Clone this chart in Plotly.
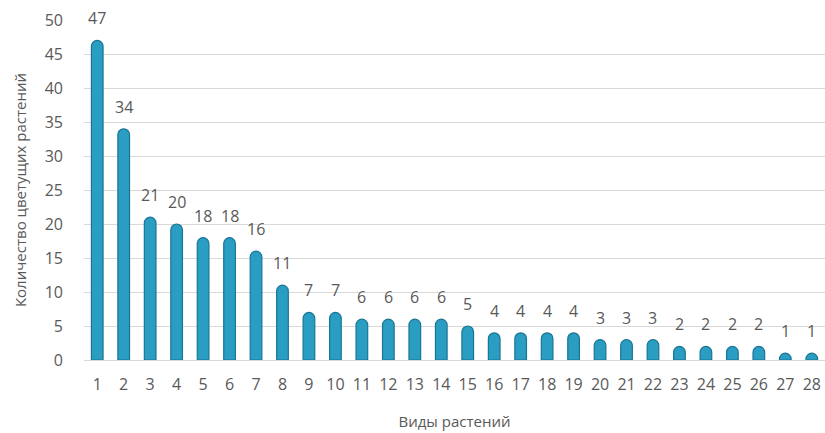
import plotly.graph_objects as go

categories = [str(i) for i in range(1, 29)]
values = [47, 34, 21, 20, 18, 18, 16, 11, 7, 7, 6, 6, 6, 6, 5, 4, 4, 4, 4, 3, 3, 3, 2, 2, 2, 2, 1, 1]
y_ticks = [0, 5, 10, 15, 20, 25, 30, 35, 40, 45, 50]

font_fam = "Open Sans, Noto Sans, sans-serif"
txt_color = "#595959"

fig = go.Figure(go.Bar(
    x=categories, y=values,
    cliponaxis=False,
    marker=dict(color="#2a9dc2", line=dict(color="#1a7594", width=1.2), cornerradius=6),
))

# category axis: annotation x given as category index
for idx, v in enumerate(values):
    fig.add_annotation(x=idx, y=v, text=str(v), showarrow=False, yanchor="bottom",
                       yshift=9, font=dict(size=16, color=txt_color, family=font_fam))

fig.update_layout(
    width=825, height=433,
    margin=dict(l=84, r=0, t=20, b=73),
    paper_bgcolor="white", plot_bgcolor="white",
    bargap=0.56,
    showlegend=False,
    font=dict(family=font_fam, color=txt_color, size=16),
    xaxis=dict(
        type="category", showgrid=False, zeroline=False,
        showline=True, linecolor="#d9d9d9", ticks="",
        tickfont=dict(size=16, color=txt_color),
        ticklabelstandoff=10,
        range=[-0.5, len(categories) - 0.5],
        title=dict(text="Виды растений", font=dict(size=15, color=txt_color), standoff=22),
    ),
    yaxis=dict(
        range=[0, 50], tickvals=y_ticks, showgrid=True, gridcolor="#d9d9d9",
        zeroline=False, ticks="", tickfont=dict(size=16, color=txt_color),
        ticklabelstandoff=20,
        title=dict(text="Количество цветущих растений", font=dict(size=15, color=txt_color), standoff=14),
    ),
)

fig.write_html("out.html")
